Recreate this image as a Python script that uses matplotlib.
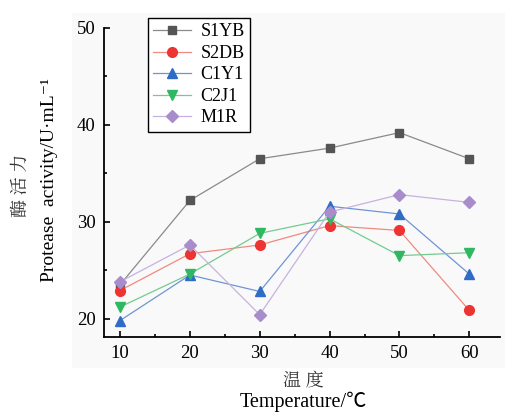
import numpy as np
import matplotlib
matplotlib.use("Agg")
import matplotlib.pyplot as plt
from matplotlib.patches import Rectangle

plt.rcParams['font.family'] = ['Liberation Serif', 'Noto Sans CJK SC', 'DejaVu Sans']

temps = [10, 20, 30, 40, 50, 60]
s1yb = [23.5, 32.2, 36.5, 37.6, 39.2, 36.5]
s2db = [22.9, 26.7, 27.6, 29.6, 29.1, 20.85]
c1y1 = [19.8, 24.5, 22.8, 31.6, 30.8, 24.6]
c2j1 = [21.2, 24.6, 28.8, 30.3, 26.5, 26.8]
m1r = [23.8, 27.6, 20.4, 31.0, 32.8, 32.0]

labels = ['S1YB', 'S2DB', 'C1Y1', 'C2J1', 'M1R']
series = [s1yb, s2db, c1y1, c2j1, m1r]
colors = ['#555555', '#ee3333', '#2f6cc6', '#2fb862', '#a98ccc']
lcolors = ['#8a8a8a', '#f08a80', '#6f94d6', '#72cc90', '#c6b2de']
markers = ['s', 'o', '^', 'v', 'D']
msizes = [6, 7, 7, 7, 6]

fig = plt.figure(figsize=(5.06, 4.13), dpi=100)
bg = Rectangle((72/506, 1-368/413), 1, 355/413, transform=fig.transFigure,
               facecolor='#f9f9f9', edgecolor='none', zorder=-5)
fig.add_artist(bg)
ax = fig.add_axes([104/506, 1-337/413, 396/506, 309/413])
ax.set_facecolor('none')

for y, lab, c, lc, m, ms in zip(series, labels, colors, lcolors, markers, msizes):
    ax.plot(temps, y, color=lc, lw=0.9, marker=m, ms=ms, mfc=c, mec=c, label=lab)

ax.set_xlim(7.7, 64.4)
ax.set_ylim(18.1, 50)
ax.set_xticks(temps)
ax.set_xticks([15, 25, 35, 45, 55], minor=True)
ax.set_yticks([20, 30, 40, 50])
ax.set_yticks([25, 35, 45], minor=True)
ax.tick_params(which='major', direction='in', length=4, width=1.2, labelsize=13.5, pad=6)
ax.tick_params(which='minor', direction='in', length=2.5, width=1.2)
for s in ['top', 'right']:
    ax.spines[s].set_visible(False)
for s in ['left', 'bottom']:
    ax.spines[s].set_linewidth(1.3)

leg = ax.legend(loc='upper left', bbox_to_anchor=(148/506, 1-18/413), bbox_transform=fig.transFigure,
                fontsize=13, frameon=True, fancybox=False, edgecolor='black', framealpha=1,
                handlelength=2.1, labelspacing=0.25, borderpad=0.3, handletextpad=0.5,
                borderaxespad=0)
leg.get_frame().set_linewidth(1.0)

cjk = ['Noto Serif CJK SC', 'Noto Sans CJK SC']
fig.text(21/506, 1-185/413, '酶 活 力', rotation=90, ha='center', va='center', fontsize=13,
         family=cjk, color='#333333')
fig.text(50/506, 1-180/413, 'Protease  activity/U·mL⁻¹', rotation=90, ha='center', va='center',
         fontsize=14)
fig.text(303/506, 1-380/413, '温 度', ha='center', va='center', fontsize=13,
         family=cjk, color='#333333')
fig.text(303/506, 1-402/413, 'Temperature/℃', ha='center', va='center', fontsize=14.5)

fig.savefig('out.png', dpi=100)
